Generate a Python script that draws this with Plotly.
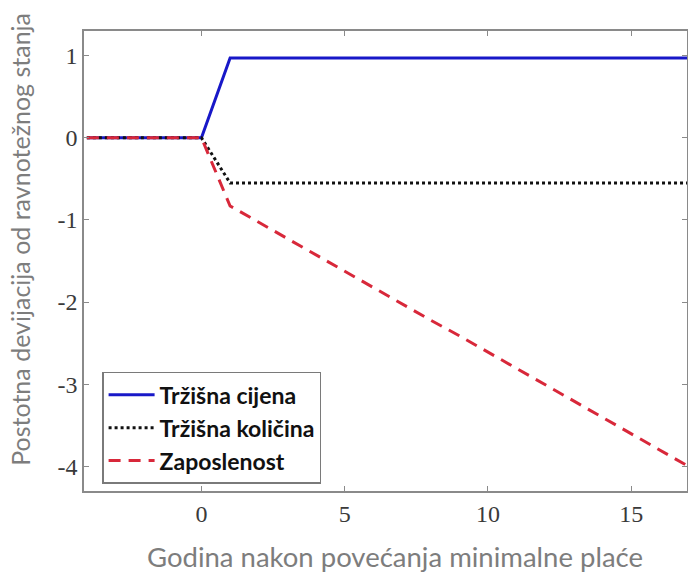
import plotly.graph_objects as go

years = list(range(-4, 18))
price = [0, 0, 0, 0, 0] + [0.97] * 17
quantity = [0, 0, 0, 0, 0] + [-0.55] * 17
employment = [0, 0, 0, 0, 0,
              -0.83, -1.03, -1.23, -1.42, -1.62, -1.82, -2.02, -2.22, -2.41,
              -2.61, -2.81, -3.01, -3.21, -3.41, -3.60, -3.80, -4.00]

series_names = ["Tržišna cijena", "Tržišna količina", "Zaposlenost"]
x_ticks = [0, 5, 10, 15]
x_tick_labels = ["0", "5", "10", "15"]
y_ticks = [1, 0, -1, -2, -3, -4]
y_tick_labels = ["1", "0", "-1", "-2", "-3", "-4"]
x_title = "Godina nakon povećanja minimalne plaće"
y_title = "Postotna devijacija od ravnotežnog stanja"

fig = go.Figure()
fig.add_trace(go.Scatter(x=years, y=price, mode="lines", name=series_names[0],
                         line=dict(color="#1818c8", width=3)))
fig.add_trace(go.Scatter(x=years, y=quantity, mode="lines", name=series_names[1],
                         line=dict(color="#111111", width=3, dash="dot")))
fig.add_trace(go.Scatter(x=years, y=employment, mode="lines", name=series_names[2],
                         line=dict(color="#d8283a", width=3, dash="12px,8px")))

axis_common = dict(showgrid=False, zeroline=False, showline=True, linecolor="#8a8a8a",
                   linewidth=1.5, mirror="ticks", ticks="inside", ticklen=5,
                   tickcolor="#8a8a8a", automargin=False,
                   tickfont=dict(family="Liberation Serif", size=24, color="#3a3a3a"))

fig.update_layout(
    width=688, height=578,
    margin=dict(l=84, r=1, t=31, b=87),
    paper_bgcolor="white", plot_bgcolor="white",
    xaxis=dict(range=[-4.1, 16.95], tickvals=x_ticks, ticktext=x_tick_labels,
               **axis_common),
    yaxis=dict(range=[-4.3, 1.3], tickvals=y_ticks, ticktext=y_tick_labels,
               **axis_common),
    legend=dict(x=0.03, y=0.259, xanchor="left", yanchor="top",
                bgcolor="white", bordercolor="#7a7a7a", borderwidth=1.5,
                font=dict(family="Lato", size=23, color="#111111", weight="bold"),
                tracegroupgap=0, itemwidth=46),
    showlegend=True,
    annotations=[
        dict(text=x_title, xref="paper", yref="paper", x=0.515, y=-0.143,
             xanchor="center", yanchor="middle", showarrow=False,
             font=dict(family="Lato", size=27.5, color="#7d7d7d")),
        dict(text=y_title, xref="paper", yref="paper", x=-0.106, y=1.043,
             xanchor="center", yanchor="top", showarrow=False, textangle=-90,
             font=dict(family="Lato", size=25, color="#7d7d7d")),
    ],
)

fig.write_html("out.html", config={"displayModeBar": False},
               post_script="document.body.style.margin='0';document.body.style.overflow='hidden';")
